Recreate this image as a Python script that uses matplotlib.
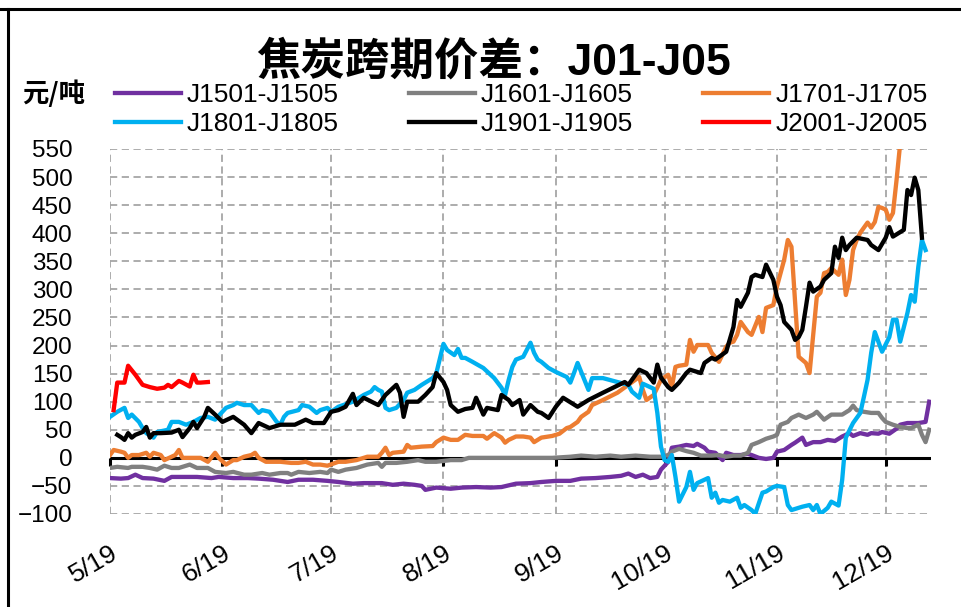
import matplotlib
matplotlib.use("Agg")
import matplotlib.pyplot as plt
import pandas as pd
from matplotlib.lines import Line2D

plt.rcParams['font.family'] = ['Liberation Sans', 'Noto Sans CJK SC']

# ---------------- data (mm/dd, 元/吨) ----------------
YEAR = 2019  # dummy year, every contract is drawn on the same May->Dec calendar

month_labels = ["5/19", "6/19", "7/19", "8/19", "9/19", "10/19", "11/19", "12/19"]

d1501 = ["5/19", "5/22", "5/24", "5/26", "5/28", "5/31",
         "6/3", "6/5", "6/8", "6/12", "6/16", "6/18", "6/22", "6/26", "6/29",
         "7/3", "7/7", "7/10", "7/14", "7/18", "7/21", "7/25", "7/28",
         "8/1", "8/2", "8/5", "8/8", "8/11", "8/13", "8/14", "8/17", "8/21", "8/24", "8/28",
         "9/1", "9/4", "9/8", "9/12", "9/15", "9/19", "9/23", "9/26", "9/30",
         "10/4", "10/7", "10/9", "10/11", "10/13", "10/15", "10/17", "10/18", "10/20", "10/21",
         "10/23", "10/25", "10/27", "10/28", "10/30", "10/31",
         "11/2", "11/4", "11/5", "11/7", "11/9", "11/11", "11/12", "11/14", "11/16", "11/18",
         "11/19", "11/21", "11/23", "11/24", "11/26", "11/27", "11/29",
         "12/1", "12/3", "12/5", "12/7", "12/9", "12/10", "12/12", "12/14", "12/15", "12/17",
         "12/18", "12/20", "12/22", "12/23", "12/25", "12/26", "12/28", "12/30", "12/31"]
v1501 = [-36, -37, -36, -30, -36, -37,
         -41, -34, -34, -34, -36, -34, -36, -36, -37,
         -39, -43, -39, -39, -41, -43, -46, -45,
         -45, -45, -48, -46, -48, -50, -57, -53, -55, -53, -52,
         -53, -52, -46, -45, -43, -41, -41, -37, -36,
         -34, -32, -28, -34, -30, -36, -34, -21, -7, 18,
         20, 23, 21, 25, 18, 11,
         9, -4, 9, 5, 5, 7, 5, 0, -2, 0,
         11, 14, 23, 27, 36, 23, 28,
         28, 32, 30, 38, 44, 39, 44, 41, 44, 43,
         46, 43, 52, 59, 62, 62, 62, 64, 100]

d1601 = ["5/19", "5/21", "5/24", "5/25", "5/28", "5/30",
         "6/1", "6/3", "6/5", "6/7", "6/10", "6/12", "6/15", "6/17", "6/20", "6/22", "6/25", "6/27", "6/30",
         "7/2", "7/5", "7/7", "7/8", "7/10", "7/13", "7/16", "7/18", "7/19", "7/21", "7/23", "7/26", "7/29",
         "8/1", "8/2", "8/3", "8/6", "8/9", "8/12", "8/14", "8/17", "8/21", "8/24", "8/26", "8/30",
         "9/4", "9/9", "9/14", "9/18", "9/23", "9/26", "9/30",
         "10/4", "10/7", "10/11", "10/15", "10/18", "10/20", "10/21", "10/23", "10/25", "10/27", "10/29", "10/31",
         "11/1", "11/3", "11/5", "11/7", "11/9", "11/11", "11/12", "11/14", "11/16", "11/18", "11/19",
         "11/20", "11/22", "11/23", "11/25", "11/27", "11/29", "11/30",
         "12/2", "12/4", "12/6", "12/7", "12/9", "12/10", "12/11", "12/13", "12/15", "12/17", "12/18",
         "12/19", "12/21", "12/23", "12/25", "12/26", "12/28", "12/29", "12/30", "12/31"]
v1601 = [-18, -16, -18, -16, -16, -18,
         -21, -14, -18, -18, -12, -18, -18, -25, -27, -25, -30, -30, -27,
         -30, -27, -27, -30, -25, -27, -25, -27, -21, -25, -21, -18, -12,
         -9, -16, -9, -9, -7, -4, -7, -7, -4, -4, 0, 0,
         0, 0, 0, 0, 2, 4, 2,
         4, 2, 4, 2, 2, 5, 11, 16, 12, 9, 4, 4,
         4, 5, 2, 4, 4, 9, 23, 28, 34, 38, 41,
         59, 64, 71, 77, 71, 77, 82,
         68, 77, 77, 77, 85, 93, 85, 82, 80, 80, 71,
         64, 59, 55, 53, 53, 59, 41, 28, 50]

d1701 = ["5/19", "5/20", "5/22", "5/23", "5/24", "5/25", "5/27", "5/29", "5/30", "5/31",
         "6/2", "6/3", "6/5", "6/6", "6/7", "6/8", "6/11", "6/13", "6/15", "6/17", "6/18", "6/20",
         "6/22", "6/23", "6/25", "6/27", "6/28", "6/29",
         "7/1", "7/3", "7/5", "7/8", "7/10", "7/12", "7/14", "7/16", "7/18", "7/21", "7/23", "7/26", "7/29",
         "8/1", "8/2", "8/3", "8/4", "8/5", "8/8", "8/9", "8/10", "8/13", "8/16", "8/17", "8/19",
         "8/21", "8/23", "8/25", "8/27", "8/30", "8/31",
         "9/2", "9/4", "9/5", "9/6", "9/8", "9/10", "9/12", "9/13", "9/15", "9/18", "9/20", "9/22",
         "9/23", "9/25", "9/26", "9/28", "9/29",
         "10/2", "10/6", "10/9", "10/12", "10/13", "10/14", "10/16", "10/17", "10/18", "10/20",
         "10/21", "10/22", "10/23", "10/25", "10/26", "10/27", "10/28", "10/31",
         "11/1", "11/3", "11/5", "11/6", "11/7", "11/8", "11/9", "11/11", "11/12", "11/14", "11/15",
         "11/16", "11/18", "11/19", "11/21", "11/22", "11/23", "11/25", "11/27", "11/28", "11/30",
         "12/1", "12/2", "12/3", "12/4", "12/6", "12/7", "12/8", "12/9", "12/10", "12/11", "12/12",
         "12/14", "12/15", "12/16", "12/17", "12/18", "12/19", "12/20", "12/21", "12/22", "12/23"]
v1701 = [5, 14, 11, 9, 0, 5, 5, 9, 2, 9,
         5, -4, 2, 5, 14, 0, 0, 0, -7, 9, 0, -12,
         -4, -4, 2, 5, 9, 0,
         -7, -7, -7, -9, -9, -7, -12, -12, -14, -7, -7, -4, 2,
         2, 9, 18, 5, 9, 11, 23, 18, 20, 21, 28, 36,
         32, 32, 41, 39, 39, 34,
         44, 36, 27, 32, 38, 38, 36, 28, 36, 39, 43, 53,
         55, 64, 73, 82, 94,
         103, 116, 130, 144, 121, 103, 112, 125, 139, 148,
         126, 162, 164, 166, 210, 189, 201, 201,
         187, 171, 198, 205, 207, 219, 242, 224, 219, 251, 224,
         267, 272, 305, 353, 388, 376, 180, 169, 151, 287,
         294, 329, 331, 338, 326, 353, 290, 317, 370, 388, 401,
         419, 410, 420, 447, 445, 442, 424, 436, 495, 560]

d1801 = ["5/19", "5/21", "5/23", "5/24", "5/25", "5/27", "5/28", "5/29", "5/31",
         "6/1", "6/4", "6/5", "6/7", "6/9", "6/11", "6/13", "6/15", "6/17", "6/19", "6/20",
         "6/22", "6/23", "6/25", "6/27", "6/29", "6/30",
         "7/2", "7/4", "7/5", "7/6", "7/7", "7/10", "7/11", "7/13", "7/15", "7/16", "7/18",
         "7/19", "7/21", "7/25", "7/28", "7/30", "7/31",
         "8/1", "8/2", "8/3", "8/4", "8/6", "8/8", "8/9", "8/11", "8/13", "8/16", "8/17",
         "8/19", "8/20", "8/22", "8/23", "8/24", "8/25", "8/27", "8/30",
         "9/2", "9/4", "9/5", "9/6", "9/7", "9/8", "9/10", "9/12", "9/13", "9/14", "9/15",
         "9/17", "9/19", "9/22", "9/23", "9/24", "9/25", "9/26", "9/28", "9/29",
         "10/2", "10/6", "10/9", "10/10", "10/12", "10/13", "10/15", "10/16", "10/17", "10/18",
         "10/19", "10/20", "10/21", "10/22", "10/23", "10/25", "10/26", "10/27", "10/28", "10/31",
         "11/1", "11/2", "11/3", "11/4", "11/6", "11/8", "11/9", "11/10", "11/12", "11/13",
         "11/15", "11/16", "11/18", "11/19", "11/21", "11/22", "11/23", "11/26", "11/28", "11/29", "11/30",
         "12/1", "12/3", "12/4", "12/6", "12/7", "12/8", "12/10", "12/12", "12/13", "12/14",
         "12/15", "12/16", "12/18", "12/20", "12/21", "12/22", "12/23", "12/25", "12/26",
         "12/27", "12/28", "12/29", "12/30"]
v1801 = [73, 82, 89, 71, 77, 64, 53, 44, 36,
         46, 50, 64, 64, 59, 64, 71, 73, 68, 82, 89,
         94, 98, 94, 94, 80, 85,
         82, 64, 59, 73, 80, 85, 94, 91, 80, 85, 89,
         82, 91, 100, 112, 118, 126,
         121, 118, 89, 85, 89, 103, 116, 121, 130, 142, 150,
         203, 192, 183, 194, 178, 178, 171, 160,
         142, 125, 112, 139, 162, 175, 180, 205, 187, 175, 171,
         160, 153, 144, 134, 151, 169, 153, 121, 142,
         142, 135, 130, 118, 107, 132, 126, 123, 80, 20,
         -4, -7, 5, -34, -78, -52, -25, -57, -45, -36,
         -71, -62, -80, -75, -78, -71, -89, -84, -93, -100,
         -62, -60, -52, -50, -52, -84, -93, -87, -84, -93, -84,
         -100, -89, -78, -85, -39, 36, 62, 80, 109, 139,
         187, 224, 189, 215, 246, 246, 207, 258, 290,
         278, 340, 388, 370]

d1901 = ["5/21", "5/22", "5/23", "5/24", "5/25", "5/26", "5/28", "5/29", "5/30", "5/31",
         "6/2", "6/5", "6/7", "6/8", "6/10", "6/11", "6/12", "6/14", "6/15", "6/17", "6/19",
         "6/22", "6/25", "6/27", "6/29",
         "7/2", "7/5", "7/9", "7/12", "7/14", "7/17", "7/19", "7/21", "7/23", "7/25", "7/26", "7/28",
         "8/1", "8/3", "8/6", "8/7", "8/8", "8/9", "8/12", "8/14", "8/16", "8/17", "8/19",
         "8/20", "8/21", "8/23", "8/25", "8/27", "8/28", "8/30", "8/31",
         "9/3", "9/4", "9/6", "9/7", "9/9", "9/10", "9/12", "9/14", "9/15", "9/17", "9/19",
         "9/21", "9/22", "9/25", "9/28",
         "10/2", "10/8", "10/9", "10/12", "10/14", "10/16", "10/17", "10/18", "10/20", "10/21",
         "10/23", "10/25", "10/26", "10/29", "10/30",
         "11/1", "11/2", "11/5", "11/7", "11/8", "11/9", "11/11", "11/12", "11/13", "11/15",
         "11/16", "11/18", "11/19", "11/20", "11/21", "11/23", "11/24", "11/25", "11/26",
         "11/27", "11/28", "11/29",
         "12/1", "12/2", "12/4", "12/5", "12/6", "12/7", "12/8", "12/9", "12/11", "12/14",
         "12/15", "12/17", "12/19", "12/20", "12/21", "12/24", "12/25", "12/26", "12/27",
         "12/28", "12/29"]
v1901 = [41, 37, 32, 44, 36, 41, 46, 55, 36, 44,
         44, 45, 50, 37, 53, 64, 53, 73, 89, 77, 64,
         73, 59, 44, 62,
         53, 59, 59, 68, 62, 62, 82, 85, 91, 114, 94, 107,
         94, 112, 130, 116, 73, 100, 100, 112, 126, 151, 135,
         121, 94, 82, 87, 89, 107, 77, 89,
         85, 112, 103, 94, 103, 77, 94, 82, 80, 71, 91,
         107, 103, 91, 103,
         116, 135, 130, 157, 151, 134, 166, 143, 126, 121,
         134, 151, 157, 151, 169,
         178, 175, 189, 233, 281, 269, 294, 322, 326, 322,
         344, 317, 287, 272, 242, 228, 210, 215, 228,
         269, 312, 296,
         305, 317, 329, 376, 356, 392, 370, 379, 392, 388,
         379, 370, 392, 411, 394, 406, 477, 468, 499,
         477, 392]

d2001 = ["5/20", "5/21", "5/23", "5/24", "5/26", "5/28", "5/30",
         "6/1", "6/3", "6/4", "6/5", "6/7", "6/8", "6/10", "6/11", "6/12", "6/13", "6/15"]
v2001 = [85, 134, 134, 164, 148, 130, 126,
         123, 125, 130, 126, 137, 134, 127, 148, 134, 134, 135]

series = [
    ("J1501-J1505", d1501, v1501, "#7030A0"),
    ("J1601-J1605", d1601, v1601, "#808080"),
    ("J1701-J1705", d1701, v1701, "#ED7D31"),
    ("J1801-J1805", d1801, v1801, "#00B0F0"),
    ("J1901-J1905", d1901, v1901, "#000000"),
    ("J2001-J2005", d2001, v2001, "#FF0000"),
]


def to_dt(days):
    return pd.to_datetime([f"{YEAR}/{d}" for d in days], format="%Y/%m/%d")


# ---------------- figure ----------------
W, H = 962, 607
fig = plt.figure(figsize=(W / 100, H / 100), dpi=100)
ax = fig.add_axes([110 / W, 1 - 514 / H, (931 - 110) / W, (514 - 149) / H])

lines = {}
for name, d, v, c in series:
    ln, = ax.plot(to_dt(d), v, color=c, lw=3.1, solid_joinstyle='round', label=name)
    lines[name] = ln

month_ticks = to_dt(month_labels)

ax.axhline(0, color='black', lw=2.2, zorder=1.8)
ax.plot(month_ticks, [0] * len(month_ticks), ls='none', marker=3, ms=6, mew=2.2,
        color='black', zorder=1.8, clip_on=False)

ax.set_ylim(-100, 550)
ax.set_xlim(pd.Timestamp(f"{YEAR}-05-19"), pd.Timestamp(f"{YEAR}-12-31 12:00"))
ax.set_yticks(range(-100, 551, 50))
ax.set_xticks(month_ticks)
ax.set_xticklabels(month_labels, rotation=30, ha='right', rotation_mode='anchor')
ax.tick_params(axis='y', length=0, pad=27, labelsize=17.5)
ax.tick_params(axis='x', length=0, pad=19, labelsize=19)

for s in ax.spines.values():
    s.set_visible(False)
ax.set_axisbelow(True)
ax.grid(True, color='#A6A6A6', ls=(0, (4, 2.5)), lw=1.3)

# legend: 3 columns, rows 15-16-17 / 18-19-20
order = ["J1501-J1505", "J1801-J1805", "J1601-J1605", "J1901-J1905", "J1701-J1705", "J2001-J2005"]
ax.legend([lines[k] for k in order], order, ncol=3, loc='upper left',
          bbox_to_anchor=(115 / W, 1 - 83 / H), bbox_transform=fig.transFigure,
          frameon=False, fontsize=19, handlelength=2.5, handletextpad=0.23,
          columnspacing=2.65, labelspacing=0.2, borderpad=0, borderaxespad=0)

fig.text(493 / W, 1 - 62 / H, "焦炭跨期价差：J01-J05", ha='center', va='center',
         fontsize=32, fontweight='bold')
fig.text(22 / W, 1 - 94 / H, "元/吨", ha='left', va='center', fontsize=19,
         fontweight='bold', family=['Noto Sans CJK SC'])

# outer frame (left and top edge of the screenshot)
fig.add_artist(Line2D([0, 1], [1 - 8.5 / H] * 2, transform=fig.transFigure, color='black', lw=2.2))
fig.add_artist(Line2D([8 / W] * 2, [0, 1 - 8.5 / H], transform=fig.transFigure, color='black', lw=2.2))

fig.savefig("out.png", dpi=100)
